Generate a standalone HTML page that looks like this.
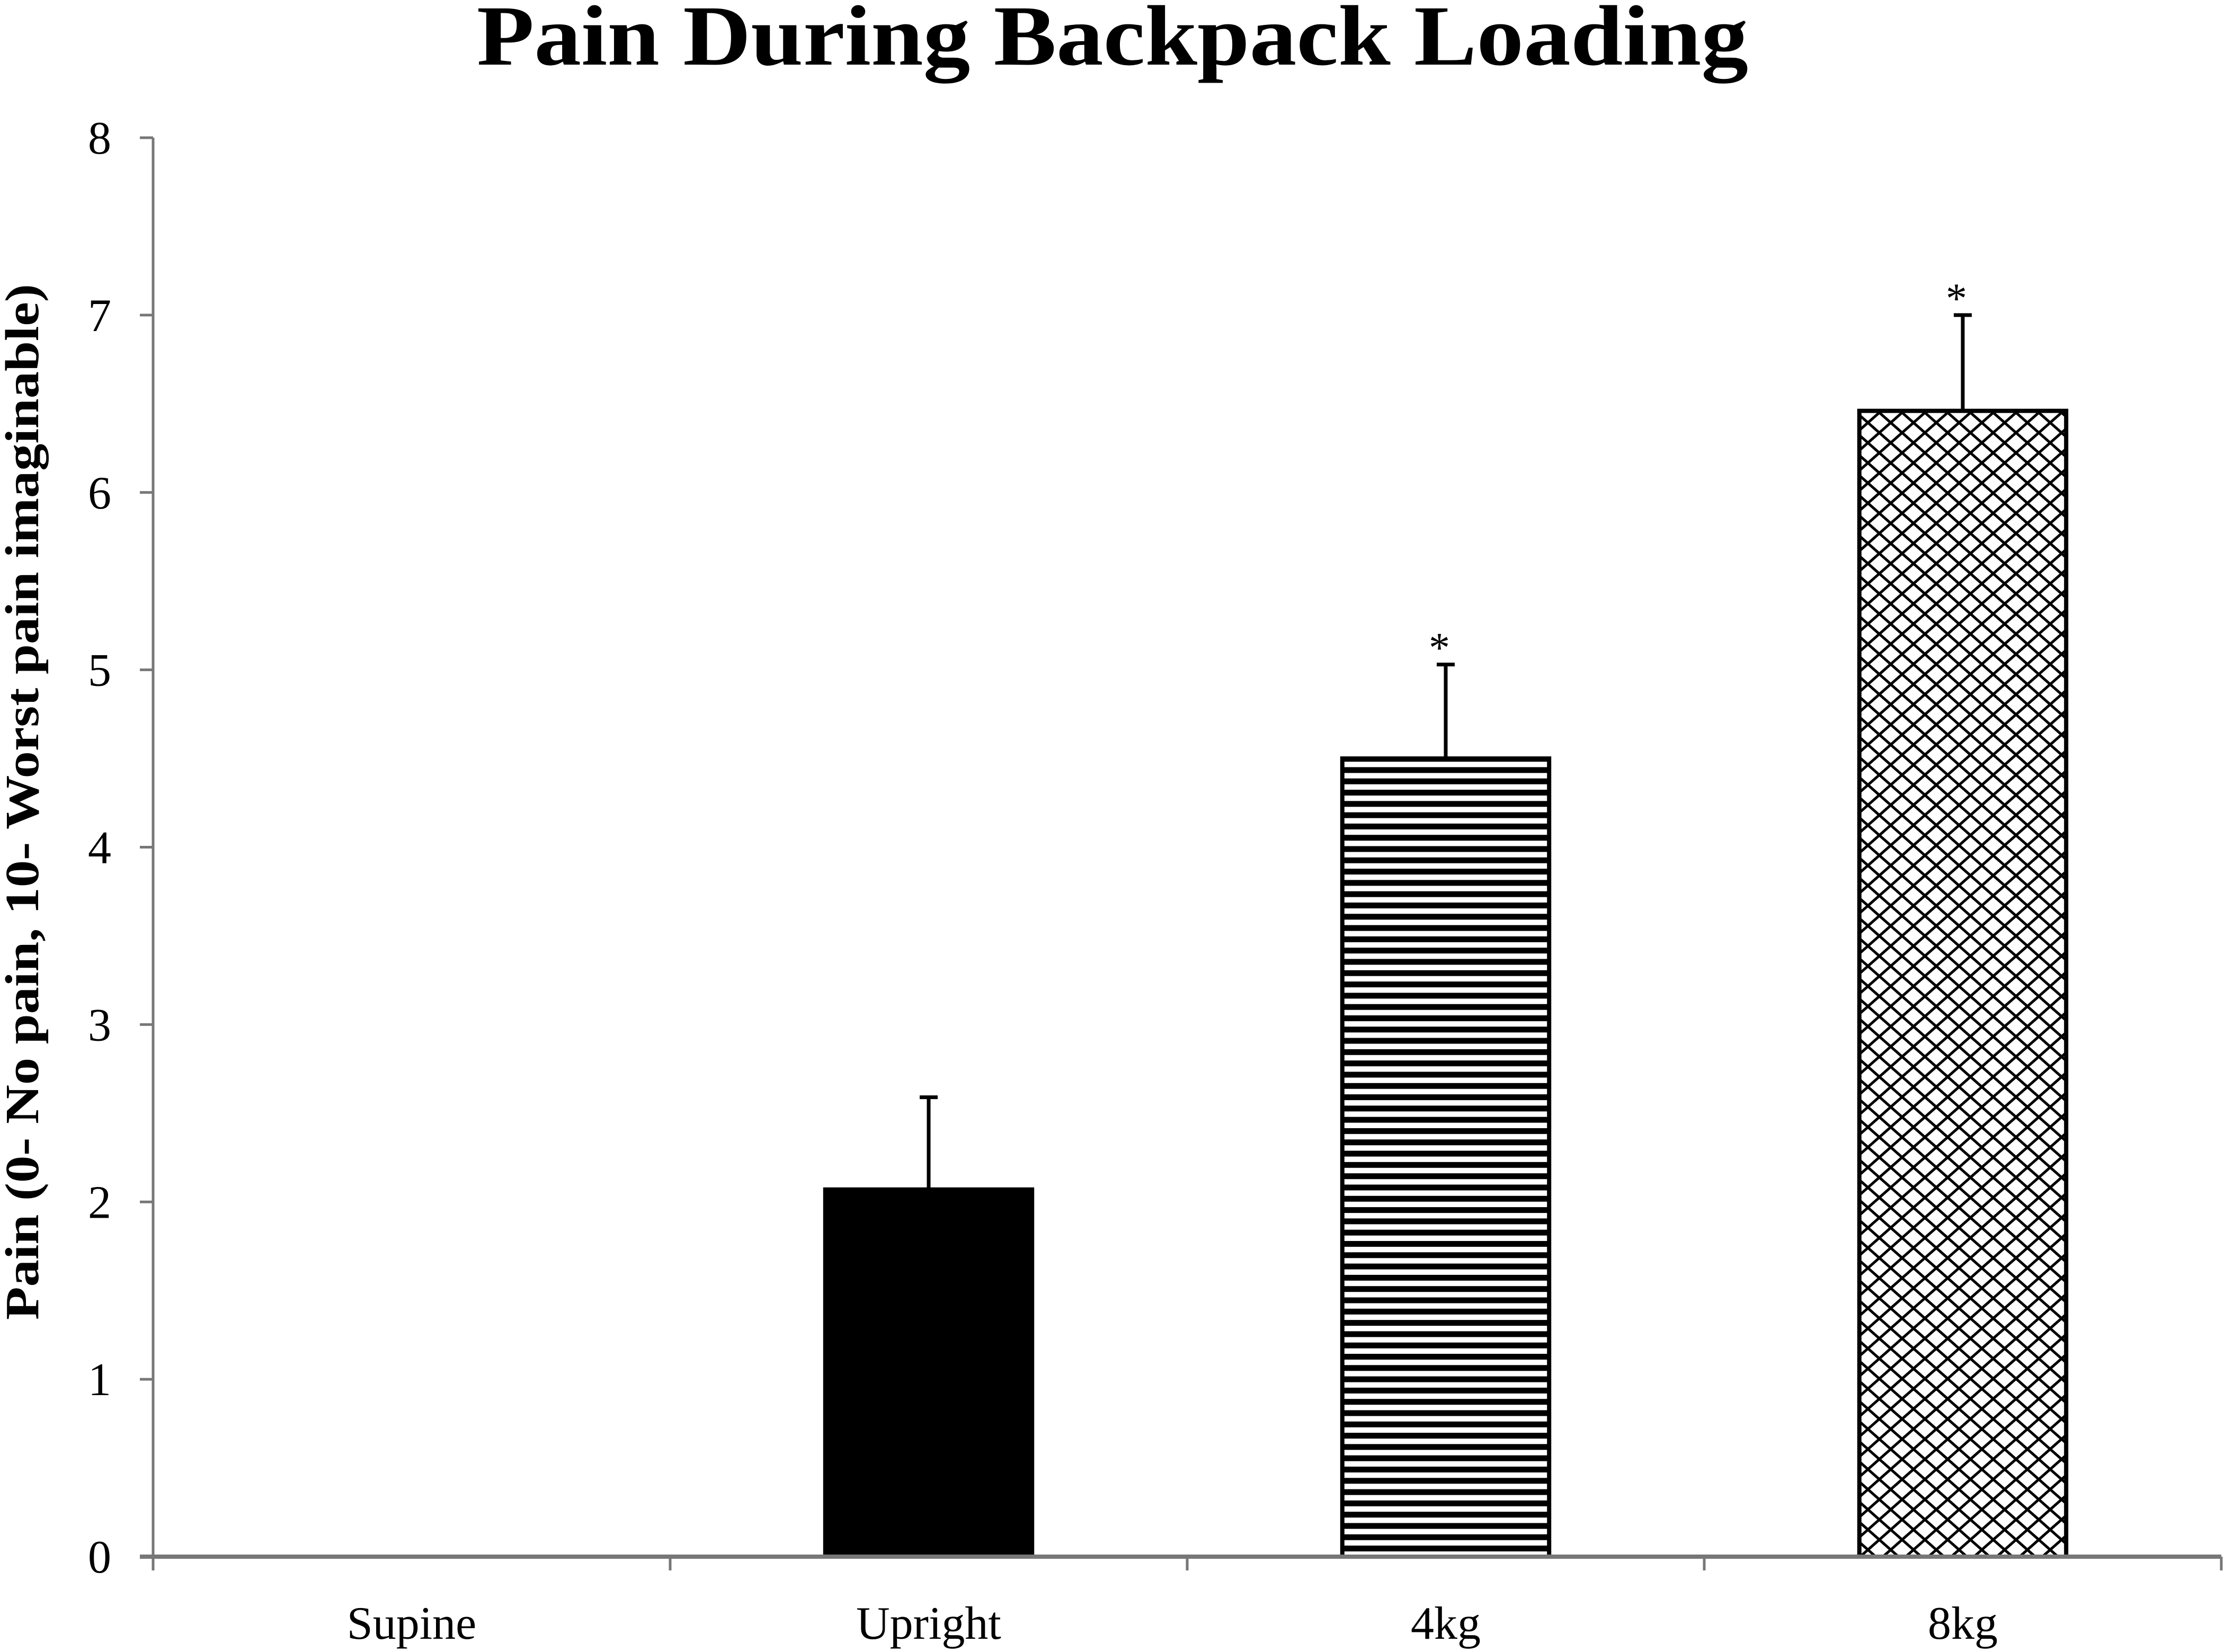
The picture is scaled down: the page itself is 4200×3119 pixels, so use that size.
<!DOCTYPE html>
<html><head><meta charset="utf-8"><style>
html,body{margin:0;padding:0;background:#fff;}
svg{display:block;}
text{font-family:"Liberation Serif",serif;fill:#000;}
</style></head><body>
<svg id="chart" width="4200" height="3119" viewBox="0 0 4200 3119" xmlns="http://www.w3.org/2000/svg">
<defs>
<pattern id="hstripe" patternUnits="userSpaceOnUse" width="40" height="21.3" y="0">
<rect width="40" height="11" fill="#000"/>
</pattern>
<pattern id="xhatch" patternUnits="userSpaceOnUse" width="43" height="38">
<path d="M0,0 L43,38 M43,0 L0,38" stroke="#000" stroke-width="5" fill="none"/>
</pattern>
</defs>
<text x="2100" y="122" text-anchor="middle" font-size="162" font-weight="bold" textLength="2400" lengthAdjust="spacingAndGlyphs">Pain During Backpack Loading</text>
<text transform="translate(72,1514) rotate(-90)" text-anchor="middle" font-size="90" font-weight="bold" textLength="1956" lengthAdjust="spacingAndGlyphs">Pain (0- No pain, 10- Worst pain imaginable)</text>
<g id="plot"></g>
</svg>
<script>
const categories = ["Supine", "Upright", "4kg", "8kg"];
const values = [0, 2.07, 4.5, 6.46];
const errors = [0, 0.52, 0.53, 0.54];
const significant = [false, false, true, true];
const fills = ["#000", "#000", "url(#hstripe)", "url(#xhatch)"];
const yTicks = [0, 1, 2, 3, 4, 5, 6, 7, 8];

const X0 = 289, X1 = 4193, Y0 = 2939, Y8 = 260;
const catW = (X1 - X0) / categories.length;
const barW = catW * 0.4;
function y(v){ return Y0 - (v / 8) * (Y0 - Y8); }
function xc(i){ return X0 + catW * (i + 0.5); }
const NS = "http://www.w3.org/2000/svg";
const g = document.getElementById('plot');
function mk(tag, attrs){ const e = document.createElementNS(NS, tag); for (const k in attrs) e.setAttribute(k, attrs[k]); g.appendChild(e); return e; }

categories.forEach((c, i) => {
  if (values[i] > 0) {
    const r = mk('rect', {x: xc(i) - barW/2, y: y(values[i]), width: barW, height: Y0 - y(values[i]), fill: "#fff"});
    
    
    const b = mk('rect', {x: xc(i) - barW/2, y: y(values[i]), width: barW, height: Y0 - y(values[i]), fill: fills[i], stroke: "#000", "stroke-width": 8});
    
    
    const top = y(values[i] + errors[i]);
    const el = mk('line', {x1: xc(i), x2: xc(i), y1: y(values[i]), y2: top, stroke: "#000", "stroke-width": 7});
    
    
    const cap = mk('line', {x1: xc(i) - 17, x2: xc(i) + 17, y1: top, y2: top, stroke: "#000", "stroke-width": 7});
    
    
    if (significant[i]) {
      const s = mk('text', {x: xc(i) - 12, y: top - 5, "text-anchor": "middle", "font-size": 80});
      s.textContent = "*";
      
      
    }
  }
});

const ya = mk('line', {x1: X0, x2: X0, y1: Y8, y2: Y0 + 26, stroke: "#777", "stroke-width": 5});


const xa = mk('line', {x1: X0 - 25, x2: X1, y1: Y0, y2: Y0, stroke: "#777", "stroke-width": 8});



yTicks.forEach(t => {
  const tk = mk('line', {x1: X0 - 25, x2: X0, y1: y(t), y2: y(t), stroke: "#777", "stroke-width": 5});
  
  
  const lb = mk('text', {x: 210, y: y(t) + 30, "text-anchor": "end", "font-size": 88});
  lb.textContent = t;
  
  
});
for (let i = 0; i <= categories.length; i++) {
  const tk = mk('line', {x1: X0 + catW * i, x2: X0 + catW * i, y1: Y0, y2: Y0 + 26, stroke: "#777", "stroke-width": 5});
  
  
}
categories.forEach((c, i) => {
  const lb = mk('text', {x: xc(i), y: 3094, "text-anchor": "middle", "font-size": 88});
  lb.textContent = c;
  
  
});
</script>
</body></html>
